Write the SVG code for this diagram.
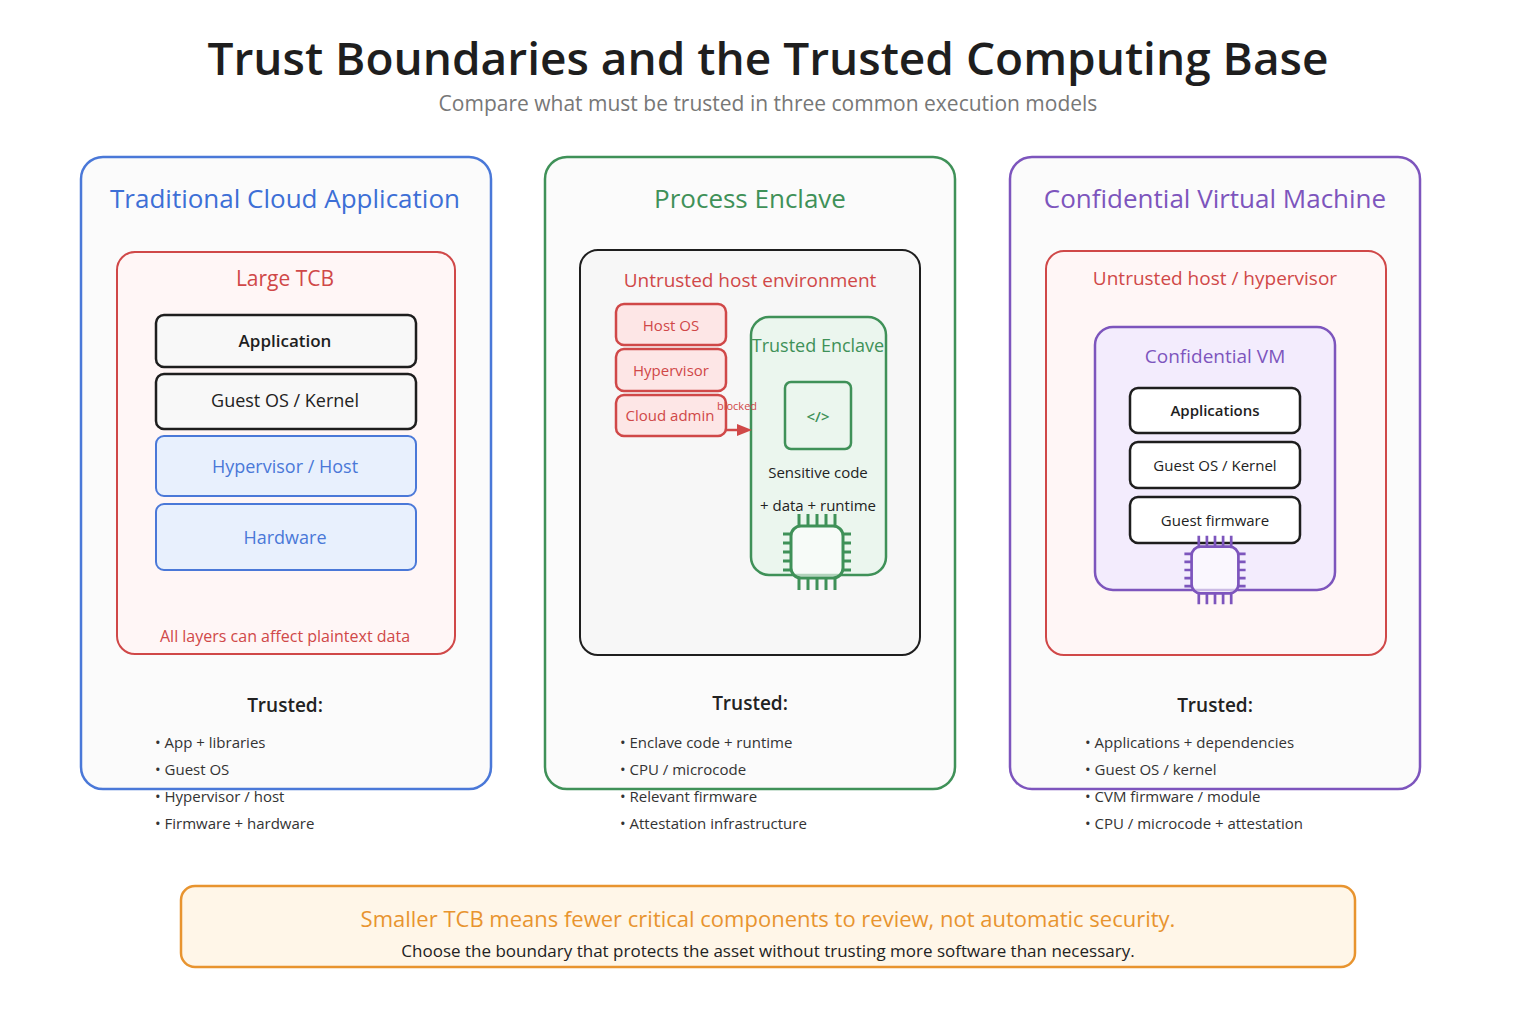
<svg xmlns="http://www.w3.org/2000/svg" width="1536" height="1024" viewBox="0 0 1536 1024">
<style>
text{font-family:"Open Sans","Liberation Sans",sans-serif}
.t{font-size:19px;fill:#222}
.li{font-size:15px;fill:#333}
.lay{stroke-width:2;rx:8}
.pin{stroke-width:3}
</style>
<defs>
<g id="chip">
<path class="pin" stroke="currentColor" d="M-18-38v12M-9-38v12M0-38v12M9-38v12M18-38v12M-18 26v12M-9 26v12M0 26v12M9 26v12M18 26v12M-34-18h8M-34-9h8M-34 0h8M-34 9h8M-34 18h8M26-18h8M26-9h8M26 0h8M26 9h8M26 18h8"/>
<rect x="-26" y="-26" width="52" height="52" rx="10" fill="#fff" fill-opacity="0.6" stroke="currentColor" stroke-width="3"/>
</g>
</defs>
<rect width="1536" height="1024" fill="#fff"/>
<text x="768" y="75" text-anchor="middle" font-size="46" font-weight="600" fill="#1e1e1e">Trust Boundaries and the Trusted Computing Base</text>
<text x="768" y="111" text-anchor="middle" font-size="21" fill="#777">Compare what must be trusted in three common execution models</text>

<g id="col1">
<rect x="81" y="157" width="410" height="632" rx="22" fill="#fbfbfb" stroke="#4a78d8" stroke-width="2.5"/>
<text x="285" y="208" text-anchor="middle" font-size="26" fill="#3d6fd6">Traditional Cloud Application</text>
<rect x="117" y="252" width="338" height="402" rx="18" fill="#fff6f6" stroke="#d04848" stroke-width="2"/>
<text x="285" y="286" text-anchor="middle" font-size="21" fill="#d04848">Large TCB</text>
<rect x="156" y="315" width="260" height="52" rx="8" fill="#f8f8f8" stroke="#1e1e1e" stroke-width="2.5"/>
<text x="285" y="347" text-anchor="middle" font-size="17" font-weight="600" fill="#1e1e1e">Application</text>
<rect x="156" y="374" width="260" height="55" rx="8" fill="#f8f8f8" stroke="#1e1e1e" stroke-width="2.5"/>
<text x="285" y="407" text-anchor="middle" font-size="18" fill="#222">Guest OS / Kernel</text>
<rect x="156" y="436" width="260" height="60" rx="8" fill="#e8f0fd" stroke="#4a78d8" stroke-width="2"/>
<text x="285" y="473" text-anchor="middle" font-size="18" fill="#4a78d8">Hypervisor / Host</text>
<rect x="156" y="504" width="260" height="66" rx="8" fill="#e8f0fd" stroke="#4a78d8" stroke-width="2"/>
<text x="285" y="544" text-anchor="middle" font-size="18" fill="#4a78d8">Hardware</text>
<text x="285" y="642" text-anchor="middle" font-size="16" fill="#d04848">All layers can affect plaintext data</text>
<text x="285" y="712" text-anchor="middle" class="t" font-weight="600">Trusted:</text>
<text class="li" x="155" y="748">• App + libraries</text>
<text class="li" x="155" y="775">• Guest OS</text>
<text class="li" x="155" y="802">• Hypervisor / host</text>
<text class="li" x="155" y="829">• Firmware + hardware</text>
</g>

<g id="col2">
<rect x="545" y="157" width="410" height="632" rx="22" fill="#fbfbfb" stroke="#3f9158" stroke-width="2.5"/>
<text x="750" y="208" text-anchor="middle" font-size="26" fill="#3f9158">Process Enclave</text>
<rect x="580" y="250" width="340" height="405" rx="18" fill="#f7f7f7" stroke="#1e1e1e" stroke-width="2"/>
<text x="750" y="287" text-anchor="middle" font-size="19" fill="#d04848">Untrusted host environment</text>
<rect x="616" y="304" width="110" height="41" rx="8" fill="#fde6e6" stroke="#d04848" stroke-width="2.5"/>
<text x="671" y="331" text-anchor="middle" font-size="15" fill="#d04848">Host OS</text>
<rect x="616" y="349" width="110" height="42" rx="8" fill="#fde6e6" stroke="#d04848" stroke-width="2.5"/>
<text x="671" y="376" text-anchor="middle" font-size="15" fill="#d04848">Hypervisor</text>
<rect x="616" y="395" width="110" height="41" rx="8" fill="#fde6e6" stroke="#d04848" stroke-width="2.5"/>
<text x="670" y="421" text-anchor="middle" font-size="15" fill="#d04848">Cloud admin</text>
<rect x="751" y="317" width="135" height="258" rx="18" fill="#ebf6ee" stroke="#3f9158" stroke-width="2.5"/>
<text x="818" y="352" text-anchor="middle" font-size="18" fill="#3f9158">Trusted Enclave</text>
<rect x="785" y="382" width="66" height="67" rx="6" fill="#ebf6ee" stroke="#3f9158" stroke-width="2.5"/>
<text x="818" y="422" text-anchor="middle" font-size="15" font-weight="600" fill="#3f9158">&lt;/&gt;</text>
<text x="818" y="478" text-anchor="middle" font-size="15" fill="#222">Sensitive code</text>
<text x="818" y="511" text-anchor="middle" font-size="15" fill="#222">+ data + runtime</text>
<use href="#chip" x="817" y="552" color="#3f9158"/>
<text x="713" y="710" text-anchor="middle" class="t" font-weight="600" transform="translate(37 0)">Trusted:</text>
<text class="li" x="620" y="748">• Enclave code + runtime</text>
<text class="li" x="620" y="775">• CPU / microcode</text>
<text class="li" x="620" y="802">• Relevant firmware</text>
<text class="li" x="620" y="829">• Attestation infrastructure</text>
</g>

<g id="col3">
<rect x="1010" y="157" width="410" height="632" rx="22" fill="#fbfbfb" stroke="#7d55bd" stroke-width="2.5"/>
<text x="1215" y="208" text-anchor="middle" font-size="26" fill="#7d55bd">Confidential Virtual Machine</text>
<rect x="1046" y="251" width="340" height="404" rx="18" fill="#fff6f6" stroke="#d04848" stroke-width="2"/>
<text x="1215" y="285" text-anchor="middle" font-size="19" fill="#d04848">Untrusted host / hypervisor</text>
<rect x="1095" y="327" width="240" height="263" rx="18" fill="#f3ecfd" stroke="#7d55bd" stroke-width="2.5"/>
<text x="1215" y="363" text-anchor="middle" font-size="19" fill="#7d55bd">Confidential VM</text>
<rect x="1130" y="388" width="170" height="45" rx="8" fill="#fff" stroke="#1e1e1e" stroke-width="2.5"/>
<text x="1215" y="416" text-anchor="middle" font-size="15" font-weight="600" fill="#1e1e1e">Applications</text>
<rect x="1130" y="442" width="170" height="46" rx="8" fill="#fff" stroke="#1e1e1e" stroke-width="2.5"/>
<text x="1215" y="471" text-anchor="middle" font-size="15" fill="#222">Guest OS / Kernel</text>
<rect x="1130" y="497" width="170" height="46" rx="8" fill="#fff" stroke="#1e1e1e" stroke-width="2.5"/>
<text x="1215" y="526" text-anchor="middle" font-size="15" fill="#222">Guest firmware</text>
<use href="#chip" x="1215" y="570" color="#7d55bd" transform="translate(1215 570) scale(0.9) translate(-1215 -570)"/>
<text x="1215" y="712" text-anchor="middle" class="t" font-weight="600">Trusted:</text>
<text class="li" x="1085" y="748">• Applications + dependencies</text>
<text class="li" x="1085" y="775">• Guest OS / kernel</text>
<text class="li" x="1085" y="802">• CVM firmware / module</text>
<text class="li" x="1085" y="829">• CPU / microcode + attestation</text>
</g>

<g id="connectors">
<path d="M726 430H740" stroke="#d04848" stroke-width="2.5"/>
<path d="M737 424L752 430L737 436Z" fill="#d04848"/>
<text x="737" y="410" text-anchor="middle" font-size="11" fill="#d04848">blocked</text>
</g>

<g id="note">
<rect x="181" y="886" width="1174" height="81" rx="14" fill="#fff6e8" stroke="#e8942f" stroke-width="2.5"/>
<text x="768" y="927" text-anchor="middle" font-size="22" fill="#e8942f">Smaller TCB means fewer critical components to review, not automatic security.</text>
<text x="768" y="957" text-anchor="middle" font-size="17" fill="#222">Choose the boundary that protects the asset without trusting more software than necessary.</text>
</g>
</svg>
